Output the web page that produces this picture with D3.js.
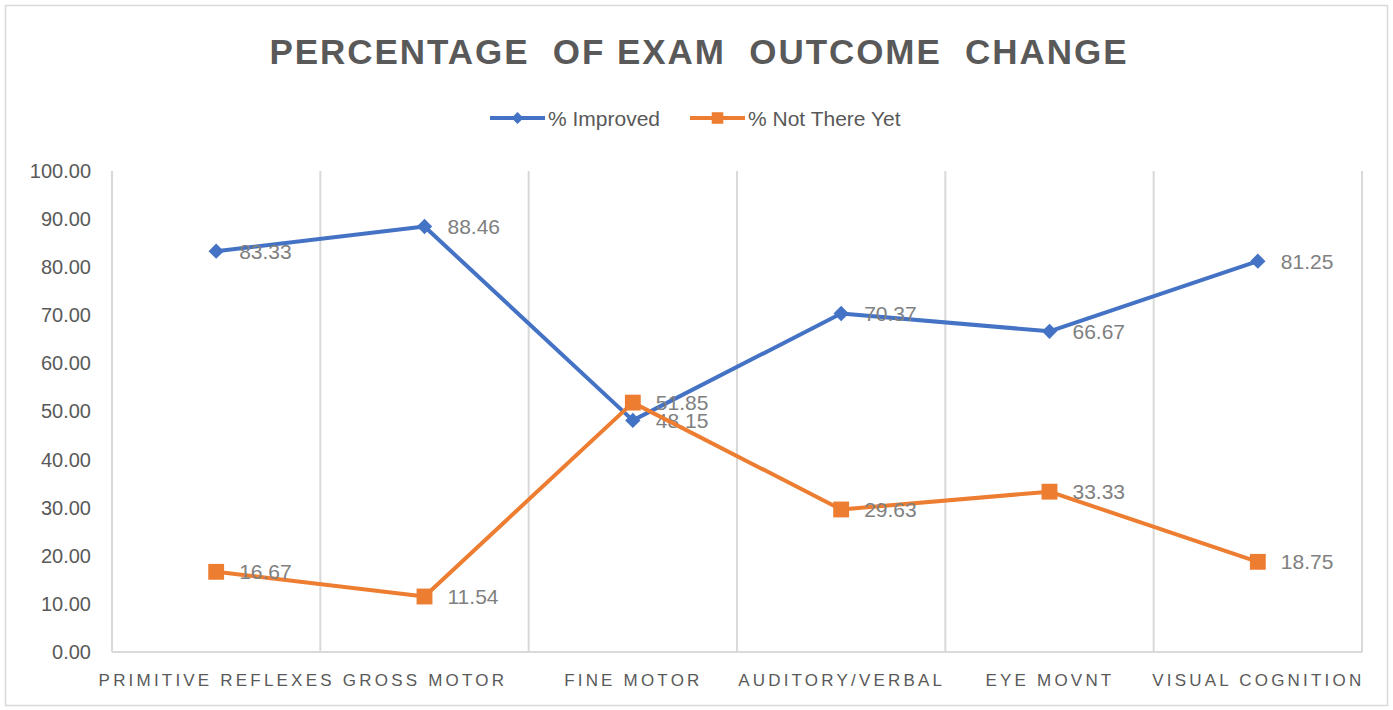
<!DOCTYPE html>
<html>
<head>
<meta charset="utf-8">
<script src="https://cdn.jsdelivr.net/npm/d3@7"></script>
<style>
  body { margin: 0; background: #fff; }
  text { font-family: "Liberation Sans", Arial, sans-serif; }
</style>
</head>
<body>
<div id="chart"></div>
<script>
// Chart data
const categories = ["PRIMITIVE REFLEXES", "GROSS MOTOR", "FINE MOTOR", "AUDITORY/VERBAL", "EYE MOVNT", "VISUAL COGNITION"];
const improved = [83.33, 88.46, 48.15, 70.37, 66.67, 81.25];
const notThereYet = [16.67, 11.54, 51.85, 29.63, 33.33, 18.75];
const yTicks = [0, 10, 20, 30, 40, 50, 60, 70, 80, 90, 100];

const series = [
  { name: "% Improved", values: improved, color: "#4472C4", marker: "diamond" },
  { name: "% Not There Yet", values: notThereYet, color: "#ED7D31", marker: "square" }
];

const width = 1393, height = 710;
const margin = { top: 171, right: 31, bottom: 58, left: 112 };

const svg = d3.select("#chart")
  .append("svg")
  .attr("width", width)
  .attr("height", height);

// outer border
svg.append("rect")
  .attr("x", 5.5).attr("y", 5.5)
  .attr("width", width - 11).attr("height", height - 10)
  .attr("fill", "#fff")
  .attr("stroke", "#d9d9d9")
  .attr("stroke-width", 1.5);

const x = d3.scalePoint()
  .domain(categories)
  .range([margin.left, width - margin.right])
  .padding(0.5);

const band = d3.scaleBand()
  .domain(categories)
  .range([margin.left, width - margin.right]);

const y = d3.scaleLinear()
  .domain([0, 100])
  .range([height - margin.bottom, margin.top]);

// vertical gridlines at category boundaries
const bounds = categories.map(c => band(c)).concat([band.range()[1]]);
svg.append("g")
  .selectAll("line")
  .data(bounds)
  .enter()
  .append("line")
  .attr("x1", d => d).attr("x2", d => d)
  .attr("y1", y(100)).attr("y2", y(0))
  .attr("stroke", "#d9d9d9")
  .attr("stroke-width", 2);

// baseline
svg.append("line")
  .attr("x1", margin.left).attr("x2", width - margin.right)
  .attr("y1", y(0)).attr("y2", y(0))
  .attr("stroke", "#d9d9d9")
  .attr("stroke-width", 2);

// y axis labels
const yAxis = d3.axisLeft(y)
  .tickValues(yTicks)
  .tickFormat(d3.format(".2f"))
  .tickSize(0)
  .tickPadding(21);

const yg = svg.append("g")
  .attr("transform", `translate(${margin.left},0)`)
  .call(yAxis);
yg.select(".domain").remove();
yg.selectAll("text")
  .attr("fill", "#595959")
  .style("font-size", "20px");

// x axis labels
const xAxis = d3.axisBottom(x).tickSize(0).tickPadding(22);
const xg = svg.append("g")
  .attr("transform", `translate(0,${y(0)})`)
  .call(xAxis);
xg.select(".domain").remove();
xg.selectAll("text")
  .attr("fill", "#595959")
  .style("font-size", "17px")
  .style("letter-spacing", "3.2px");

// lines
const line = d3.line()
  .x((d, i) => x(categories[i]))
  .y(d => y(d));

series.forEach(s => {
  const g = svg.append("g");
  g.append("path")
    .datum(s.values)
    .attr("d", line)
    .attr("fill", "none")
    .attr("stroke", s.color)
    .attr("stroke-width", 4)
    .attr("stroke-linejoin", "round");

  const sym = s.marker === "diamond"
    ? d3.symbol().type(d3.symbolDiamond2).size(150)
    : d3.symbol().type(d3.symbolSquare2).size(320);

  g.selectAll("path.marker")
    .data(s.values)
    .enter()
    .append("path")
    .attr("class", "marker")
    .attr("d", sym)
    .attr("transform", (d, i) => `translate(${x(categories[i])},${y(d)})`)
    .attr("fill", s.color);

  g.selectAll("text")
    .data(s.values)
    .enter()
    .append("text")
    .attr("x", (d, i) => x(categories[i]) + 23)
    .attr("y", d => y(d))
    .attr("dy", "0.36em")
    .attr("fill", "#808080")
    .style("font-size", "21px")
    .text(d => d.toFixed(2));
});

// title
svg.append("text")
  .attr("x", 698)
  .attr("y", 64)
  .attr("text-anchor", "middle")
  .attr("fill", "#595959")
  .style("font-size", "35px")
  .style("font-weight", "bold")
  .attr("textLength", 857)
  .attr("lengthAdjust", "spacing")
  .text("PERCENTAGE  OF EXAM  OUTCOME  CHANGE")
  .attr("xml:space", "preserve")
  .style("white-space", "pre");

// legend
const legendItems = [
  { s: series[0], x: 490 },
  { s: series[1], x: 690 }
];
legendItems.forEach(it => {
  const lg = svg.append("g").attr("transform", `translate(${it.x},118)`);
  lg.append("line")
    .attr("x1", 0).attr("x2", 55)
    .attr("stroke", it.s.color)
    .attr("stroke-width", 4);
  const sym = it.s.marker === "diamond"
    ? d3.symbol().type(d3.symbolDiamond2).size(90)
    : d3.symbol().type(d3.symbolSquare2).size(170);
  lg.append("path")
    .attr("d", sym)
    .attr("transform", "translate(27.5,0)")
    .attr("fill", it.s.color);
  lg.append("text")
    .attr("x", 58)
    .attr("dy", "0.36em")
    .attr("fill", "#595959")
    .style("font-size", "21px")
    .text(it.s.name);
});
</script>
</body>
</html>
